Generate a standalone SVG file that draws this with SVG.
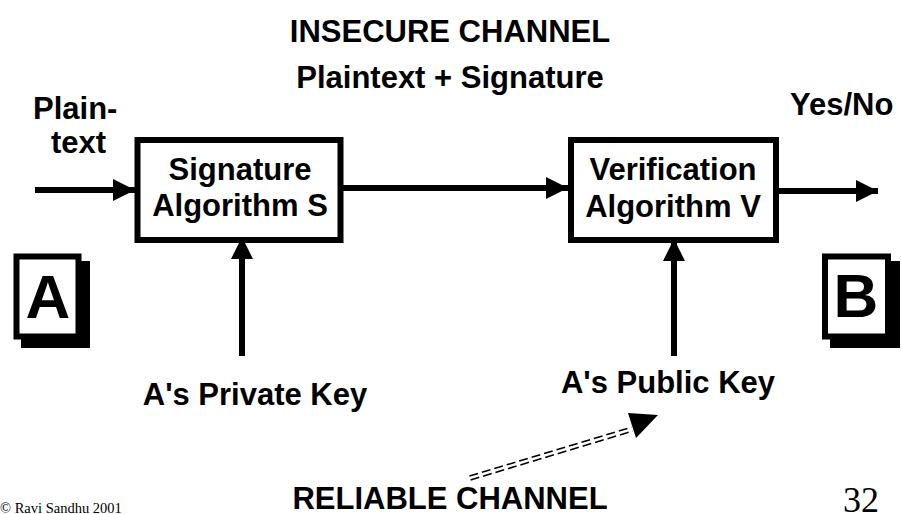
<svg xmlns="http://www.w3.org/2000/svg" width="901" height="514" viewBox="0 0 901 514">
  <style>
    .lbl { font-family: "Liberation Sans", Arial, sans-serif; font-weight: bold; font-size: 31px; fill: #000; }
    .mid { text-anchor: middle; }
    .box { fill: #fff; stroke: #000; stroke-width: 6; }
    .wire { stroke: #000; stroke-width: 6; fill: none; }
    .dash { stroke: #000; stroke-width: 1.6; fill: none; stroke-dasharray: 9 4; }
    .letter { font-family: "Liberation Sans", Arial, sans-serif; font-weight: bold; font-size: 62px; text-anchor: middle; }
    .serif { font-family: "Liberation Serif", "Times New Roman", serif; fill: #000; }
  </style>
  <defs>
    <marker id="head" viewBox="0 0 22 22" refX="22" refY="11" markerWidth="22" markerHeight="22" markerUnits="userSpaceOnUse" orient="auto">
      <path d="M0,0 L22,11 L0,22 Z" fill="#000"/>
    </marker>
  </defs>

  <rect width="901" height="514" fill="#fff"/>

  <!-- channel captions -->
  <text class="lbl mid" x="450" y="42">INSECURE CHANNEL</text>
  <text class="lbl mid" x="450" y="88">Plaintext + Signature</text>
  <text class="lbl" x="33" y="119">Plain-</text>
  <text class="lbl" x="51" y="153">text</text>
  <text class="lbl" x="790" y="115">Yes/No</text>

  <!-- connectors -->
  <g id="connectors">
    <line class="wire" x1="35" y1="190" x2="135" y2="190" marker-end="url(#head)"/>
    <line class="wire" x1="340" y1="188" x2="568" y2="188" marker-end="url(#head)"/>
    <line class="wire" x1="778" y1="191" x2="878" y2="191" marker-end="url(#head)"/>
    <line class="wire" x1="242" y1="356" x2="242" y2="237" marker-end="url(#head)"/>
    <line class="wire" x1="674" y1="356" x2="674" y2="239" marker-end="url(#head)"/>
    <!-- reliable channel: double dashed line -->
    <line class="dash" x1="470.6" y1="479.9" x2="632.6" y2="431.1"/>
    <line class="dash" x1="469.4" y1="476.1" x2="631.4" y2="427.3"/>
    <path d="M628,413 L658,415 L636,438 Z" fill="#000"/>
  </g>

  <g id="sig-alg">
    <rect class="box" x="137.5" y="140" width="203" height="100"/>
    <text class="lbl mid" x="240" y="180">Signature</text>
    <text class="lbl mid" x="240" y="216">Algorithm S</text>
  </g>

  <g id="ver-alg">
    <rect class="box" x="571" y="140" width="205" height="100"/>
    <text class="lbl mid" x="673" y="180">Verification</text>
    <text class="lbl mid" x="673" y="217">Algorithm V</text>
  </g>

  <g id="party-a">
    <rect x="21" y="261" width="69" height="87" fill="#000"/>
    <rect class="box" x="16.5" y="256.5" width="62" height="80"/>
    <text class="letter" x="48" y="318">A</text>
  </g>

  <g id="party-b">
    <rect x="830" y="261" width="70" height="87" fill="#000"/>
    <rect class="box" x="825" y="256.5" width="63" height="80"/>
    <text class="letter" x="856" y="317">B</text>
  </g>

  <g id="private-key">
    <text class="lbl mid" x="255" y="405">A's Private Key</text>
  </g>

  <g id="public-key">
    <text class="lbl mid" x="668" y="393">A's Public Key</text>
  </g>

  <text class="lbl mid" x="450" y="509">RELIABLE CHANNEL</text>

  <text class="serif" x="0" y="513" font-size="14.5">© Ravi Sandhu 2001</text>
  <text class="serif" x="843" y="512" font-size="36">32</text>
</svg>
